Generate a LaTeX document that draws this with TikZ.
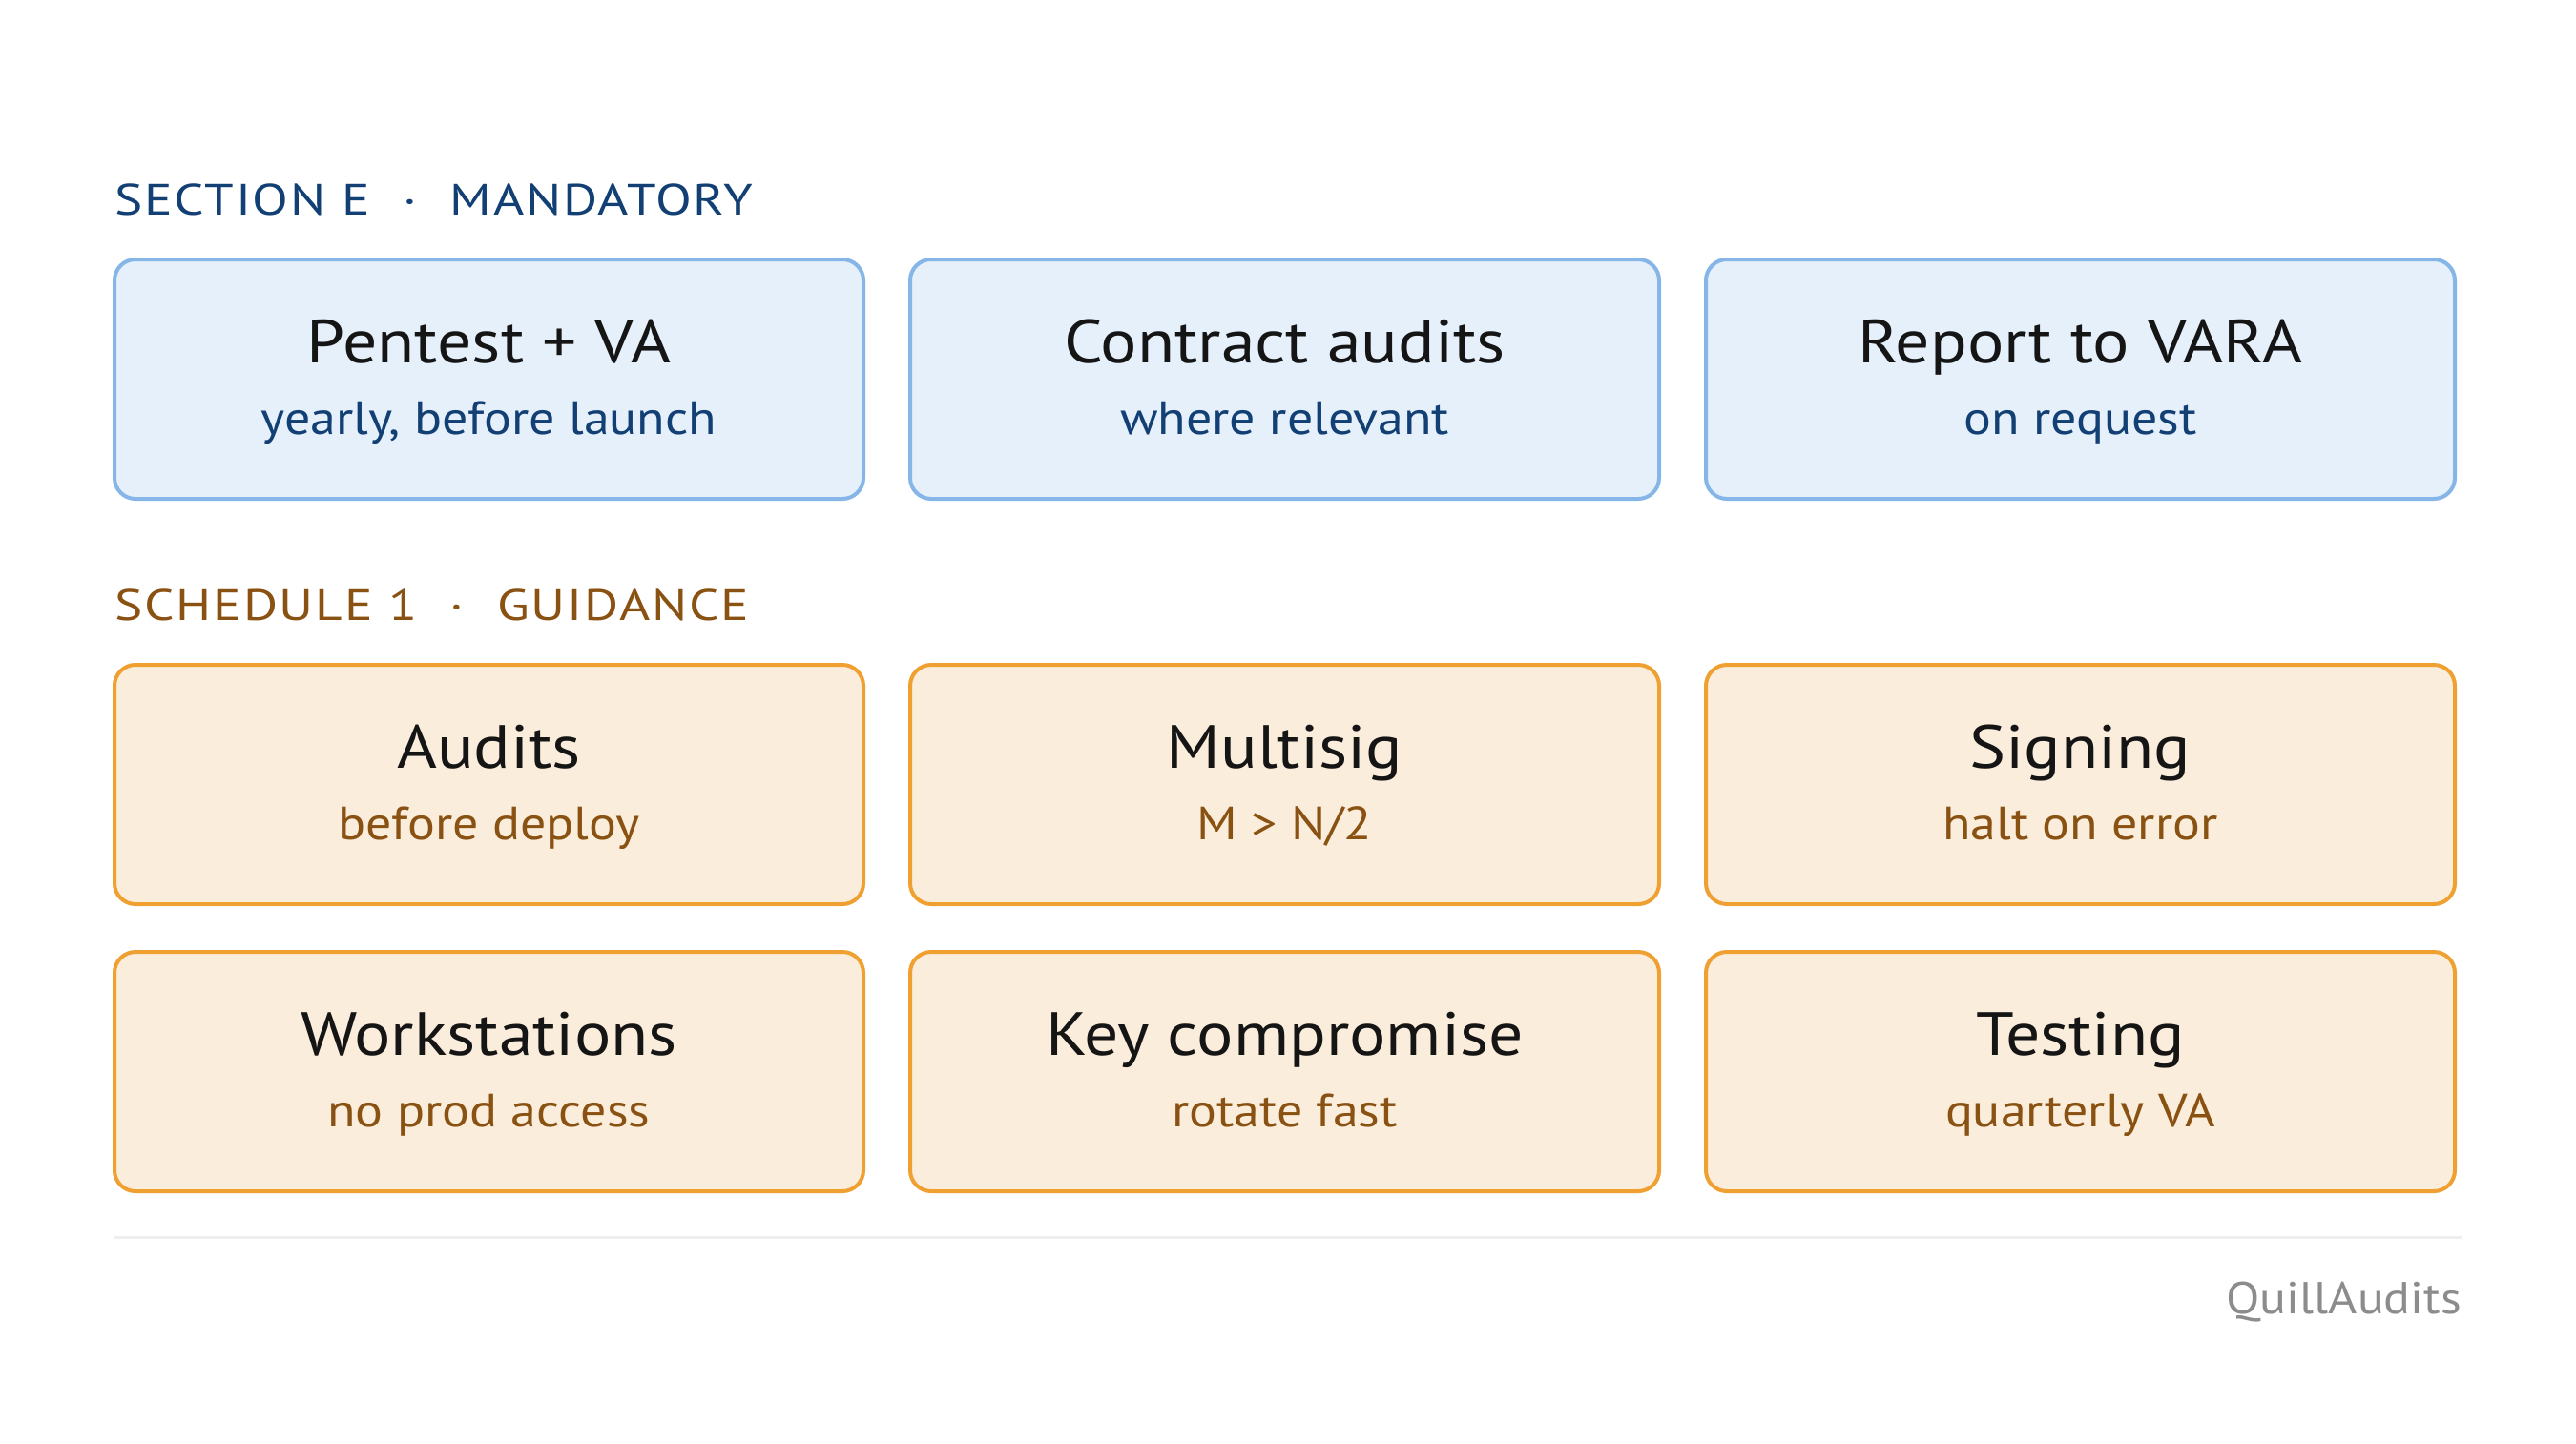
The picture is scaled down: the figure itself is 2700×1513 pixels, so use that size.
\documentclass[tikz,border=0pt]{standalone}
\usepackage{fontspec}
\setmainfont{PT Sans}
\newfontfamily\titlefont[FakeStretch=1.12]{PT Sans}
\newfontfamily\subfont[FakeStretch=1.1]{PT Sans}
\newfontfamily\headfont[FakeStretch=1.2,LetterSpace=4]{PT Sans}
\newfontfamily\brandfont[FakeStretch=1.1]{PT Sans}
\definecolor{bluefill}{HTML}{E6F0FB}
\definecolor{blueline}{HTML}{86B6E8}
\definecolor{bluetext}{HTML}{123F74}
\definecolor{orfill}{HTML}{FAEDDB}
\definecolor{orline}{HTML}{F0A030}
\definecolor{brtext}{HTML}{8A5212}
\definecolor{titletext}{HTML}{151515}
\definecolor{sepline}{HTML}{EEEEEE}
\definecolor{brandgray}{HTML}{8C8C8C}
\tikzset{
  card/.style={rounded corners=22pt, line width=4pt},
  bluecard/.style={card, draw=blueline, fill=bluefill},
  orcard/.style={card, draw=orline, fill=orfill},
  cardtitle/.style={anchor=base, inner sep=0pt, text=titletext, font=\titlefont\fontsize{64}{70}\selectfont},
  bluesub/.style={anchor=base, inner sep=0pt, text=bluetext, font=\subfont\fontsize{49}{55}\selectfont},
  orsub/.style={anchor=base, inner sep=0pt, text=brtext, font=\subfont\fontsize{49}{55}\selectfont},
  header/.style={anchor=base west, inner sep=0pt, font=\headfont\fontsize{46}{52}\selectfont},
}
\newcommand{\card}[5]{%
  % #1 name, #2 style, #3 left, #4 top, #5 title
  \path[#2] (#3,#4) rectangle ++(785,251);
  \coordinate (#1) at ({#3+392.5},#4);
  \node[cardtitle] (#1t) at ([yshift=-108pt]#1) {#5};
}
\begin{document}
\begin{tikzpicture}[x=1pt,y=-1pt]
\useasboundingbox[fill=white] (0,0) rectangle (2700,1513);
% headers
\node[header, text=bluetext] (h1) at (120,225) {SECTION E\hspace{0.75em}·\hspace{0.75em}MANDATORY};
\node[header, text=brtext] (h2) at (120,650) {SCHEDULE 1\hspace{0.75em}·\hspace{0.75em}GUIDANCE};
% row 1
\card{a1}{bluecard}{120}{272}{Pentest + VA}
\node[bluesub] (a1s) at ([yshift=-183pt]a1) {yearly, before launch};
\card{a2}{bluecard}{954}{272}{Contract audits}
\node[bluesub] (a2s) at ([yshift=-183pt]a2) {where relevant};
\card{a3}{bluecard}{1788}{272}{Report to VARA}
\node[bluesub] (a3s) at ([yshift=-183pt]a3) {on request};
% row 2
\card{b1}{orcard}{120}{697}{Audits}
\node[orsub] (b1s) at ([yshift=-183pt]b1) {before deploy};
\card{b2}{orcard}{954}{697}{Multisig}
\node[orsub] (b2s) at ([yshift=-183pt]b2) {M > N/2};
\card{b3}{orcard}{1788}{697}{Signing}
\node[orsub] (b3s) at ([yshift=-183pt]b3) {halt on error};
% row 3
\card{c1}{orcard}{120}{998}{Workstations}
\node[orsub] (c1s) at ([yshift=-183pt]c1) {no prod access};
\card{c2}{orcard}{954}{998}{Key compromise}
\node[orsub] (c2s) at ([yshift=-183pt]c2) {rotate fast};
\card{c3}{orcard}{1788}{998}{Testing}
\node[orsub] (c3s) at ([yshift=-183pt]c3) {quarterly VA};
% separator and brand
\coordinate (sepL) at (120,1297);
\coordinate (sepR) at (2581,1297);
\draw[sepline, line width=3pt] (sepL) -- (sepR);
\node[anchor=base east, inner sep=0pt, text=brandgray, font=\brandfont\fontsize{47}{53}\selectfont] (brand) at (2580,1377) {QuillAudits};
\end{tikzpicture}
\end{document}
